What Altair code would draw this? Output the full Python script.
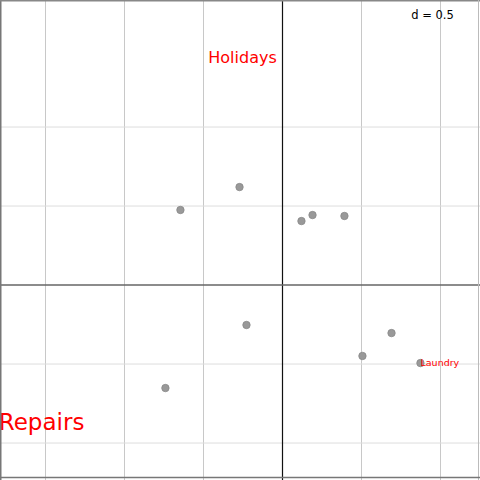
import altair as alt
import pandas as pd

px = [-0.272, -0.646, 0.120, 0.190, 0.392, -0.228, 0.690, 0.506, 0.873, -0.741]
py = [0.620, 0.475, 0.405, 0.443, 0.437, -0.253, -0.304, -0.449, -0.494, -0.652]

labels = ["Holidays", "Repairs", "Laundry"]
lx = [-0.253, -1.525, 0.996]
ly = [1.437, -0.873, -0.494]
lsize = [16, 23, 9.5]

grid_vals = [-1.5, -1.0, -0.5, 0.5, 1.0]

xdom = [-1.788, 1.250]
ydom = [-1.234, 1.804]

xs = alt.Scale(domain=xdom, nice=False, zero=False)
ys = alt.Scale(domain=ydom, nice=False, zero=False)

pts = pd.DataFrame({"x": px, "y": py})
lab = pd.DataFrame({"x": lx, "y": ly, "label": labels, "size": lsize})
g = pd.DataFrame({"v": grid_vals})
z = pd.DataFrame({"v": [0.0]})

vgrid = alt.Chart(g).mark_rule(color="#c8c8c8", strokeWidth=1).encode(
    x=alt.X("v:Q", scale=xs, axis=None))
hgrid = alt.Chart(g).mark_rule(color="#dddddd", strokeWidth=1).encode(
    y=alt.Y("v:Q", scale=ys, axis=None))
vax = alt.Chart(z).mark_rule(color="#111111", strokeWidth=1.2).encode(
    x=alt.X("v:Q", scale=xs, axis=None))
hax = alt.Chart(z).mark_rule(color="#666666", strokeWidth=1.6).encode(
    y=alt.Y("v:Q", scale=ys, axis=None))

frame_l = alt.Chart(z).mark_rule(color="#777777", strokeWidth=1.5).encode(
    x=alt.value(0.75), y=alt.value(0), y2=alt.value(480))
frame_t = alt.Chart(z).mark_rule(color="#888888", strokeWidth=1.5).encode(
    y=alt.value(0.75), x=alt.value(0), x2=alt.value(480))
frame_r = alt.Chart(z).mark_rule(color="#bbbbbb", strokeWidth=1).encode(
    x=alt.value(478.5), y=alt.value(0), y2=alt.value(480))
frame_b = alt.Chart(z).mark_rule(color="#777777", strokeWidth=1.5).encode(
    y=alt.value(477.5), x=alt.value(0), x2=alt.value(480))

points = alt.Chart(pts).mark_circle(size=55, color="#999999", opacity=1,
                                     stroke="#888888", strokeWidth=0.8).encode(
    x=alt.X("x:Q", scale=xs, axis=None), y=alt.Y("y:Q", scale=ys, axis=None))

texts = alt.Chart(lab).mark_text(color="red", font="DejaVu Sans", align="center",
                                 baseline="middle").encode(
    x=alt.X("x:Q", scale=xs, axis=None), y=alt.Y("y:Q", scale=ys, axis=None),
    text="label:N", size=alt.Size("size:Q", scale=None, legend=None))

dlab = alt.Chart(pd.DataFrame({"t": ["d = 0.5"]})).mark_text(
    font="DejaVu Sans", fontSize=11.5, color="black", align="center", baseline="middle").encode(
    x=alt.value(432.5), y=alt.value(16), text="t:N")

chart = alt.layer(vgrid, hgrid, vax, hax, points, texts, dlab,
                  frame_l, frame_t, frame_r, frame_b).properties(
    width=480, height=480, padding=0, autosize=alt.AutoSizeParams(type="none")
).configure_view(stroke=None)

chart.save("out.html", embed_options={"renderer": "svg", "actions": False})
